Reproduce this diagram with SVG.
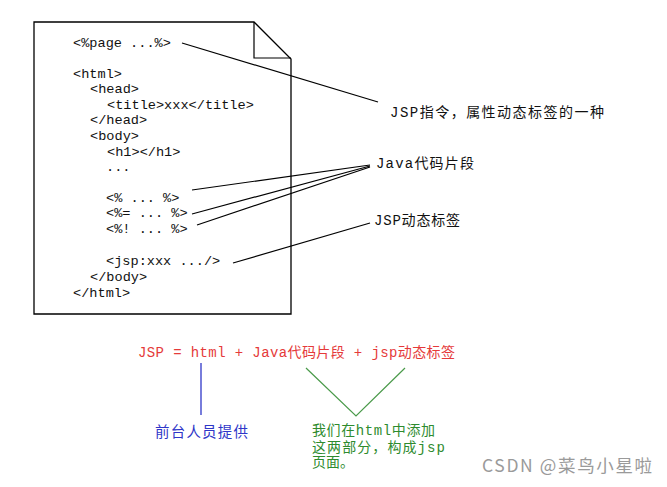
<svg xmlns="http://www.w3.org/2000/svg" width="667" height="487" viewBox="0 0 667 487">
<style>
.code{font-family:"Liberation Mono","Noto Sans CJK SC",monospace;font-size:13.6px;fill:#111}
.lbl{font-family:"Liberation Mono","Noto Sans CJK SC",monospace;font-size:14px;fill:#111}
.red{font-family:"Liberation Mono","Noto Sans CJK SC",monospace;font-size:14px;fill:#e53a3a}
.blue{font-family:"Noto Sans CJK SC",sans-serif;font-size:14.5px;fill:#2f36c8}
.green{font-family:"Liberation Mono","Noto Sans CJK SC",monospace;font-size:14px;fill:#2e8b2e}
.ln{stroke:#000;stroke-width:1.2;fill:none}
</style>
<rect width="667" height="487" fill="#fff"/>
<g id="page">
<path d="M34 22 H254 L291 59 V314 H34 Z" fill="#fff" stroke="#000" stroke-width="1.3"/>
<path d="M254 22 V58 H291" fill="none" stroke="#000" stroke-width="1.2"/>
<text class="code" x="73" y="46.5">&lt;%page ...%&gt;</text>
<text class="code" x="73" y="77.5">&lt;html&gt;</text>
<text class="code" x="90" y="92.5">&lt;head&gt;</text>
<text class="code" x="107" y="108.5">&lt;title&gt;xxx&lt;/title&gt;</text>
<text class="code" x="90" y="123.5">&lt;/head&gt;</text>
<text class="code" x="90" y="139.5">&lt;body&gt;</text>
<text class="code" x="107" y="155.5">&lt;h1&gt;&lt;/h1&gt;</text>
<text class="code" x="106" y="171">...</text>
<text class="code" x="106" y="201.5">&lt;% ... %&gt;</text>
<text class="code" x="106" y="216.5">&lt;%= ... %&gt;</text>
<text class="code" x="106" y="232.5">&lt;%! ... %&gt;</text>
<text class="code" x="106" y="264.5">&lt;jsp:xxx .../&gt;</text>
<text class="code" x="90" y="280.5">&lt;/body&gt;</text>
<text class="code" x="73" y="296.5">&lt;/html&gt;</text>
</g>
<g id="label-directive"><text class="lbl" x="390" y="117" textLength="214" lengthAdjust="spacing">JSP指令，属性动态标签的一种</text></g>
<g id="label-java"><text class="lbl" x="376" y="168" textLength="98" lengthAdjust="spacing">Java代码片段</text></g>
<g id="label-tag"><text class="lbl" x="374" y="225" textLength="86" lengthAdjust="spacing">JSP动态标签</text></g>
<g id="formula"><text class="red" x="138" y="357" textLength="317" lengthAdjust="spacing">JSP = html + Java代码片段 + jsp动态标签</text></g>
<g id="label-frontend"><text class="blue" x="155" y="437" textLength="93" lengthAdjust="spacing">前台人员提供</text></g>
<g id="label-add">
<text class="green" x="312" y="435" textLength="123" lengthAdjust="spacing">我们在html中添加</text>
<text class="green" x="312" y="452" textLength="133" lengthAdjust="spacing">这两部分，构成jsp</text>
<text class="green" x="312" y="467">页面。</text>
</g>
<g id="watermark"><text x="482" y="472" font-family="'Noto Sans CJK SC',sans-serif" font-size="17.5" fill="#9a9a9a" textLength="170" lengthAdjust="spacing">CSDN @菜鸟小星啦</text></g>
<g id="connectors">
<line class="ln" x1="182" y1="43" x2="378" y2="102"/>
<line class="ln" x1="192" y1="190" x2="370" y2="165"/>
<line class="ln" x1="192" y1="214" x2="370" y2="166"/>
<line class="ln" x1="197" y1="225" x2="370" y2="167"/>
<line class="ln" x1="233" y1="263" x2="370" y2="223"/>
<line x1="201" y1="363" x2="201" y2="415" stroke="#2f36c8" stroke-width="1.3"/>
<polyline points="306,368 356,416 405,368" fill="none" stroke="#4a9a4a" stroke-width="1.2"/>
</g>
</svg>
